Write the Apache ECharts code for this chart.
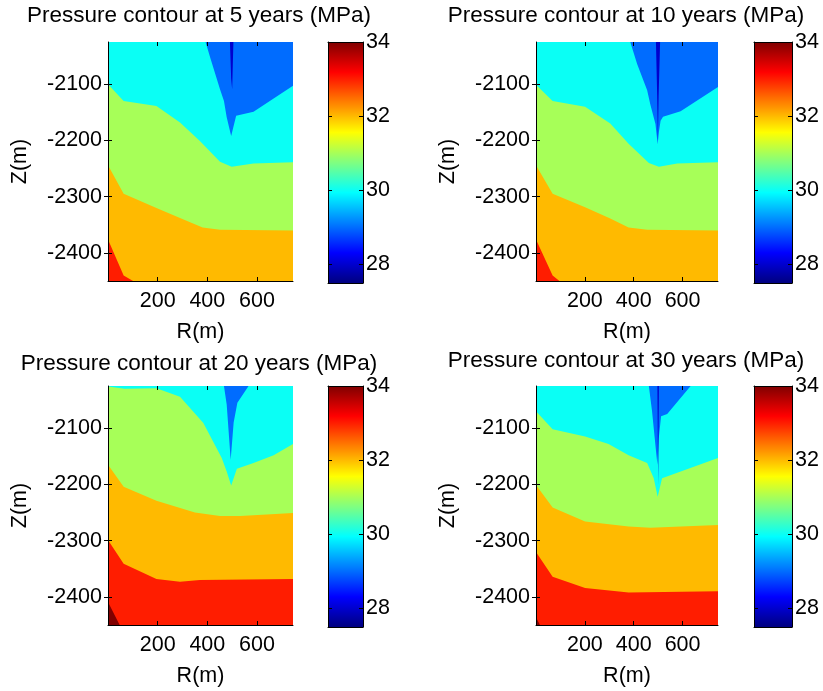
<!DOCTYPE html>
<html><head><meta charset="utf-8">
<script src="https://cdn.jsdelivr.net/npm/echarts@6/dist/echarts.min.js"></script>
<style>html,body{margin:0;padding:0;background:#fff}#c{width:823px;height:691px}</style>
</head><body><div id="c"></div>
<script>
// ---------------- data ----------------
const years = [5, 10, 20, 30];
const rRange = [0, 745];
const zRange = [-2450, -2025];
const rTicks = [200, 400, 600];
const zTicks = [-2400, -2300, -2200, -2100];
const cRange = [27.5, 34];
const cTicks = [28, 30, 32, 34];
const baseLevel = 30;
const domainTop = [[0, -2025], [745, -2025]];

// contour boundaries as [R, Z] points
// 5 years
const y5_c31 = [[0,-2100],[63,-2130],[195,-2139],[290,-2168],[370,-2201],[451,-2238],[498,-2247],[505,-2244],[586,-2241],[745,-2239]];
const y5_c32 = [[0,-2244],[63,-2295],[195,-2320],[290,-2338],[381,-2355],[451,-2359],[745,-2360]];
const y5_c33 = [[0,-2376],[63,-2440],[101,-2450],[745,-2450]];
const y5_c29 = [[0,-2025],[393,-2025],[413,-2055],[451,-2109],[467,-2130],[478,-2159],[496,-2192],[516,-2156],[586,-2149],[745,-2103]];
const y5_c28 = [[0,-2025],[491,-2025],[496,-2090],[500,-2109],[505,-2025],[745,-2025]];
// 10 years
const y10_c31 = [[0,-2101],[68,-2130],[201,-2140],[304,-2170],[379,-2206],[462,-2240],[503,-2247],[509,-2244],[578,-2241],[745,-2239]];
const y10_c32 = [[0,-2244],[68,-2295],[201,-2319],[304,-2339],[379,-2355],[455,-2359],[745,-2360]];
const y10_c33 = [[0,-2376],[68,-2440],[96,-2450],[745,-2450]];
const y10_c29 = [[0,-2025],[386,-2025],[414,-2064],[455,-2111],[468,-2136],[489,-2171],[498,-2207],[503,-2185],[510,-2165],[520,-2158],[592,-2148],[745,-2105]];
const y10_c28 = [[0,-2025],[491,-2025],[496,-2120],[499,-2200],[502,-2120],[508,-2025],[745,-2025]];
// 20 years
const y20_c31 = [[0,-2026],[67,-2030],[195,-2029],[290,-2044],[384,-2091],[458,-2153],[478,-2177],[496,-2202],[519,-2172],[586,-2162],[667,-2148],[745,-2128]];
const y20_c32 = [[0,-2165],[63,-2204],[195,-2229],[350,-2250],[451,-2256],[532,-2256],[745,-2251]];
const y20_c33 = [[0,-2299],[63,-2341],[195,-2368],[290,-2373],[370,-2370],[745,-2368]];
const y20_c34 = [[0,-2409],[47,-2450],[745,-2450]];
const y20_c29 = [[0,-2025],[467,-2025],[478,-2058],[494,-2156],[506,-2090],[521,-2055],[566,-2025],[745,-2025]];
// 30 years
const y30_c31 = [[0,-2070],[68,-2102],[201,-2115],[297,-2128],[379,-2148],[455,-2162],[482,-2189],[498,-2222],[516,-2189],[745,-2153]];
const y30_c32 = [[0,-2201],[68,-2241],[201,-2266],[379,-2275],[468,-2277],[745,-2272]];
const y30_c33 = [[0,-2320],[68,-2364],[201,-2384],[379,-2392],[745,-2390]];
const y30_c34 = [[0,-2436],[16,-2450],[745,-2450]];
const y30_c29 = [[0,-2025],[462,-2025],[475,-2070],[493,-2148],[497,-2165],[502,-2120],[512,-2079],[537,-2075],[633,-2025],[745,-2025]];
const y30_c28 = [[0,-2025],[497,-2025],[500,-2200],[503,-2025],[745,-2025]];

// [level, side of line the level fills, boundary]
const bands5  = [[31,'below',y5_c31],[32,'below',y5_c32],[33,'below',y5_c33],[29,'above',y5_c29],[28,'above',y5_c28]];
const bands10 = [[31,'below',y10_c31],[32,'below',y10_c32],[33,'below',y10_c33],[29,'above',y10_c29],[28,'above',y10_c28]];
const bands20 = [[31,'below',y20_c31],[32,'below',y20_c32],[33,'below',y20_c33],[34,'below',y20_c34],[29,'above',y20_c29]];
const bands30 = [[31,'below',y30_c31],[32,'below',y30_c32],[33,'below',y30_c33],[34,'below',y30_c34],[29,'above',y30_c29],[28,'above',y30_c28]];
const panelBands = [bands5, bands10, bands20, bands30];

// ---------------- layout / style ----------------
const FONT = 'Liberation Sans, Arial, Helvetica, sans-serif';
const plotBoxes = [
  {left:108, top:42,  width:185, height:239},
  {left:536, top:42,  width:182, height:239},
  {left:108, top:386, width:185, height:239},
  {left:536, top:386, width:182, height:239}
];
const cbBoxes = [
  {left:328, top:42,  width:35, height:241},
  {left:754, top:42,  width:38, height:241},
  {left:328, top:386, width:35, height:241},
  {left:754, top:386, width:38, height:241}
];
const titlePos = [{x:199, y:4}, {x:626, y:4}, {x:199, y:352}, {x:626, y:349}];

function jet(v) {
  const t = (v - cRange[0]) / (cRange[1] - cRange[0]);
  const c = x => Math.round(255 * Math.max(0, Math.min(1, 1.5 - Math.abs(x))));
  return 'rgb(' + c(4*t-3) + ',' + c(4*t-2) + ',' + c(4*t-1) + ')';
}
const cbStops = [];
for (let k = 0; k <= 64; k++) {
  cbStops.push({offset: k/64, color: jet(cRange[0] + (cRange[1]-cRange[0]) * k/64)});
}
const plain = function (v) { return String(v); };

const grids = [], xAxes = [], yAxes = [], series = [], titles = [];
const black = '#000';
const tickStyle = {show:true, inside:true, length:4, lineStyle:{color:black, width:1}};
const lbl = {color:black, fontSize:21.5, fontFamily:FONT};

for (let i = 0; i < 4; i++) {
  grids.push(Object.assign({containLabel:false}, plotBoxes[i]));
  grids.push(Object.assign({containLabel:false}, cbBoxes[i]));
  const gP = 2*i, gC = 2*i + 1;
  // plot axes
  xAxes.push({type:'value', gridIndex:gP, position:'bottom', min:rRange[0], max:rRange[1], z:10,
    axisLine:{show:true, onZero:false, lineStyle:{color:black, width:1}},
    axisTick:Object.assign({customValues:rTicks}, tickStyle),
    axisLabel:Object.assign({customValues:rTicks, margin:9, formatter:plain}, lbl),
    splitLine:{show:false},
    name:'R(m)', nameLocation:'middle', nameGap:40, nameTextStyle:Object.assign({}, lbl)});
  xAxes.push({type:'value', gridIndex:gP, position:'top', min:rRange[0], max:rRange[1], z:10,
    axisLine:{show:false}, axisTick:Object.assign({customValues:rTicks}, tickStyle),
    axisLabel:{show:false}, splitLine:{show:false}});
  yAxes.push({type:'value', gridIndex:gP, position:'left', min:zRange[0], max:zRange[1], z:10,
    axisLine:{show:true, onZero:false, lineStyle:{color:black, width:1}},
    axisTick:Object.assign({customValues:zTicks}, tickStyle),
    axisLabel:Object.assign({customValues:zTicks, margin:6, formatter:plain}, lbl),
    splitLine:{show:false},
    name:'Z(m)', nameLocation:'middle', nameRotate:90, nameGap:77, nameTextStyle:Object.assign({}, lbl)});
  yAxes.push({type:'value', gridIndex:gP, position:'right', min:zRange[0], max:zRange[1], z:10,
    axisLine:{show:false}, axisTick:Object.assign({customValues:zTicks}, tickStyle),
    axisLabel:{show:false}, splitLine:{show:false}});
  // colorbar axes
  xAxes.push({type:'value', gridIndex:gC, position:'bottom', min:0, max:1, z:10,
    axisLine:{show:true, onZero:false, lineStyle:{color:black, width:1}}, axisTick:{show:false},
    axisLabel:{show:false}, splitLine:{show:false}});
  xAxes.push({type:'value', gridIndex:gC, position:'top', min:0, max:1, z:10,
    axisLine:{show:true, onZero:false, lineStyle:{color:black, width:1}}, axisTick:{show:false},
    axisLabel:{show:false}, splitLine:{show:false}});
  yAxes.push({type:'value', gridIndex:gC, position:'right', min:cRange[0], max:cRange[1], z:10,
    axisLine:{show:true, onZero:false, lineStyle:{color:black, width:1}},
    axisTick:Object.assign({customValues:cTicks}, tickStyle),
    axisLabel:Object.assign({customValues:cTicks, margin:3, formatter:plain}, lbl), splitLine:{show:false}});
  yAxes.push({type:'value', gridIndex:gC, position:'left', min:cRange[0], max:cRange[1], z:10,
    axisLine:{show:true, onZero:false, lineStyle:{color:black, width:1}},
    axisTick:Object.assign({customValues:cTicks}, tickStyle),
    axisLabel:{show:false}, splitLine:{show:false}});

  const xi = 4*i, yi = 4*i;
  // base band fills the domain
  series.push({type:'line', xAxisIndex:xi, yAxisIndex:yi, data:domainTop, symbol:'none', silent:true,
    lineStyle:{width:0}, areaStyle:{color:jet(baseLevel), opacity:1, origin:'start'}, z:1, animation:false});
  panelBands[i].forEach(function(b, k) {
    series.push({type:'line', xAxisIndex:xi, yAxisIndex:yi, data:b[2], symbol:'none', silent:true,
      lineStyle:{width:0}, areaStyle:{color:jet(b[0]), opacity:1, origin: b[1]==='below' ? 'start' : 'end'},
      z:2 + k*0.01, animation:false});
  });
  // colorbar
  series.push({type:'custom', xAxisIndex:4*i+2, yAxisIndex:4*i+2, silent:true, animation:false,
    data:[[0, cRange[0], 1, cRange[1]]],
    renderItem: function(params, api) {
      const p0 = api.coord([api.value(0), api.value(1)]);
      const p1 = api.coord([api.value(2), api.value(3)]);
      return {type:'rect', shape:{x:p0[0], y:p1[1], width:p1[0]-p0[0], height:p0[1]-p1[1]},
        style:{fill:new echarts.graphic.LinearGradient(0, 1, 0, 0, cbStops)}};
    }});
  titles.push({text:'Pressure contour at ' + years[i] + ' years (MPa)', left:titlePos[i].x, top:titlePos[i].y,
    textAlign:'center', padding:0,
    textStyle:{fontSize:22.5, fontWeight:'normal', color:black, fontFamily:FONT}});
}

const chart = echarts.init(document.getElementById('c'), null, {renderer:'canvas'});
chart.setOption({
  backgroundColor:'#fff',
  animation:false,
  textStyle:{fontFamily:FONT},
  title:titles, grid:grids, xAxis:xAxes, yAxis:yAxes, series:series
});
</script></body></html>
